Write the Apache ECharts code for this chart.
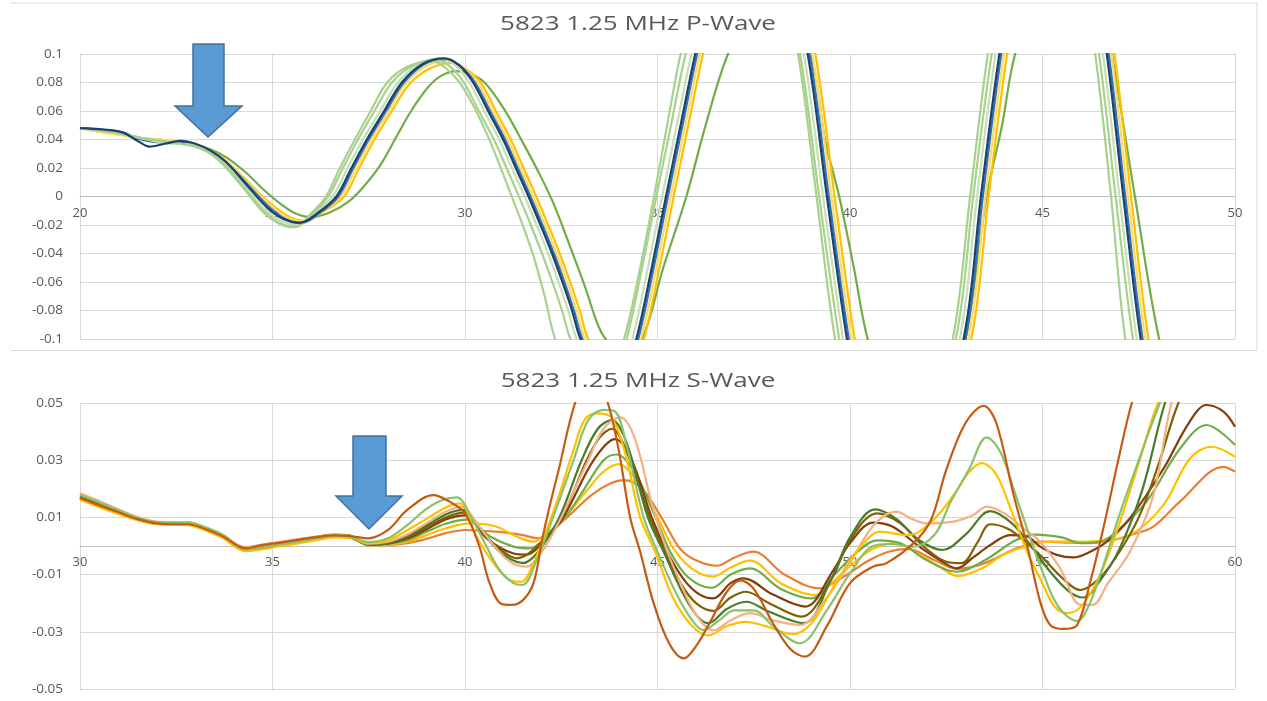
<!DOCTYPE html>
<html>
<head>
<meta charset="utf-8">
<script src="https://cdn.jsdelivr.net/npm/echarts@6/dist/echarts.min.js"></script>
<style>
  html, body { margin: 0; padding: 0; background: #ffffff; }
  #chart { width: 1267px; height: 701px; }
</style>
</head>
<body>
<div id="chart"></div>
<script>
// ---------- P-Wave traces (time, amplitude) ----------
const pTitle = '5823 1.25 MHz P-Wave';
const pXTicks = { min: 20, max: 50, step: 5 };
const pYTicks = { min: -0.1, max: 0.1, step: 0.02 };

const pLightGreenA = [[20,0.048],[20.6,0.046],[21.1,0.044],[21.6,0.041],[22.1,0.039],[22.6,0.037],[23.0,0.035],[23.4,0.03],[23.8,0.02],[24.3,0.004],[24.8,-0.012],[25.3,-0.0205],[25.6,-0.0215],[26.0,-0.012],[26.39,0],[26.75,0.02],[27.14,0.04],[27.55,0.06],[27.98,0.08],[28.5,0.091],[29.15,0.095],[29.5,0.09],[29.86,0.08],[30.25,0.062],[30.6,0.042],[30.9,0.022],[31.17,0.003],[31.47,-0.018],[31.78,-0.042],[32.07,-0.07],[32.34,-0.1],[32.8,-0.128],[33.25,-0.137],[33.7,-0.128],[34.13,-0.1],[34.55,-0.05],[34.91,0],[35.25,0.05],[35.6,0.1],[36.3,0.18],[37.15,0.21],[38.0,0.18],[38.65,0.1],[39.13,0],[39.61,-0.1],[40.3,-0.2],[41.0,-0.245],[41.7,-0.2],[42.67,-0.1],[43.12,0],[43.58,0.1],[44.2,0.2],[45.0,0.25],[45.8,0.2],[46.37,0.1],[46.78,0],[47.15,-0.1],[47.8,-0.2],[48.7,-0.27],[49.6,-0.25],[50,-0.22]];
const pLightGreenB = [[20,0.048],[20.6,0.046],[21.1,0.044],[21.6,0.041],[22.1,0.039],[22.6,0.037],[23.0,0.035],[23.4,0.03],[23.8,0.021],[24.3,0.005],[24.8,-0.011],[25.3,-0.02],[25.6,-0.021],[26.0,-0.013],[26.45,0],[26.83,0.02],[27.22,0.04],[27.65,0.06],[28.1,0.08],[28.65,0.092],[29.25,0.096],[29.62,0.091],[29.97,0.08],[30.36,0.06],[30.75,0.04],[31.08,0.02],[31.4,0],[31.71,-0.02],[32.0,-0.04],[32.27,-0.06],[32.52,-0.08],[32.74,-0.1],[33.25,-0.125],[33.65,-0.128],[33.95,-0.118],[34.2,-0.1],[34.6,-0.05],[34.97,0],[35.35,0.05],[35.73,0.1],[36.4,0.17],[37.25,0.2],[38.1,0.17],[38.7,0.1],[39.2,0],[39.72,-0.1],[40.3,-0.19],[41.0,-0.24],[41.7,-0.2],[42.75,-0.1],[43.2,0],[43.68,0.1],[44.3,0.2],[45.1,0.25],[45.9,0.2],[46.47,0.1],[46.9,0],[47.35,-0.1],[48.0,-0.2],[48.9,-0.27],[50,-0.25]];
const pPaleGreen = [[20,0.048],[20.6,0.046],[21.1,0.044],[21.6,0.041],[22.1,0.038],[22.6,0.037],[23.0,0.036],[23.4,0.031],[23.8,0.022],[24.3,0.007],[24.8,-0.009],[25.3,-0.018],[25.65,-0.0195],[26.1,-0.011],[26.56,0],[26.95,0.02],[27.35,0.04],[27.8,0.06],[28.26,0.08],[28.8,0.093],[29.37,0.097],[29.75,0.092],[30.11,0.08],[30.5,0.06],[30.89,0.04],[31.22,0.02],[31.55,0],[31.86,-0.02],[32.16,-0.04],[32.43,-0.06],[32.68,-0.08],[32.9,-0.1],[33.4,-0.125],[33.8,-0.128],[34.1,-0.118],[34.35,-0.1],[34.75,-0.05],[35.12,0],[35.5,0.05],[35.88,0.1],[36.5,0.17],[37.35,0.2],[38.2,0.17],[38.8,0.1],[39.3,0],[39.82,-0.1],[40.4,-0.19],[41.1,-0.24],[41.8,-0.2],[42.85,-0.1],[43.3,0],[43.78,0.1],[44.4,0.2],[45.2,0.25],[46.0,0.2],[46.57,0.1],[47.0,0],[47.45,-0.1],[48.1,-0.2],[49.0,-0.27],[50,-0.245]];
const pNavy = [[20,0.048],[20.6,0.047],[21.1,0.045],[21.5,0.039],[21.8,0.035],[22.2,0.037],[22.6,0.039],[23.0,0.037],[23.4,0.032],[23.8,0.024],[24.3,0.009],[24.85,-0.0075],[25.3,-0.016],[25.7,-0.0185],[26.2,-0.011],[26.66,0],[27.05,0.02],[27.45,0.04],[27.9,0.06],[28.36,0.08],[28.9,0.093],[29.47,0.097],[29.85,0.092],[30.21,0.08],[30.6,0.06],[30.99,0.04],[31.32,0.02],[31.65,0],[31.96,-0.02],[32.26,-0.04],[32.53,-0.06],[32.78,-0.08],[33.0,-0.1],[33.5,-0.125],[33.9,-0.127],[34.2,-0.118],[34.45,-0.1],[34.85,-0.05],[35.22,0],[35.6,0.05],[35.98,0.1],[36.6,0.17],[37.45,0.2],[38.3,0.17],[38.9,0.1],[39.4,0],[39.92,-0.1],[40.5,-0.19],[41.2,-0.24],[41.9,-0.2],[42.95,-0.1],[43.4,0],[43.88,0.1],[44.5,0.2],[45.3,0.25],[46.1,0.2],[46.67,0.1],[47.1,0],[47.55,-0.1],[48.2,-0.2],[49.1,-0.27],[50,-0.24]];
const pBlue = [[20,0.048],[20.6,0.047],[21.1,0.045],[21.6,0.04],[22.1,0.038],[22.6,0.038],[23.0,0.036],[23.4,0.032],[23.8,0.024],[24.3,0.01],[24.9,-0.007],[25.35,-0.016],[25.75,-0.0185],[26.25,-0.011],[26.71,0],[27.1,0.02],[27.5,0.04],[27.95,0.06],[28.41,0.08],[28.95,0.093],[29.52,0.096],[29.9,0.091],[30.26,0.08],[30.65,0.06],[31.04,0.04],[31.37,0.02],[31.7,0],[32.01,-0.02],[32.31,-0.04],[32.58,-0.06],[32.83,-0.08],[33.05,-0.1],[33.55,-0.125],[33.95,-0.127],[34.25,-0.118],[34.5,-0.1],[34.9,-0.05],[35.27,0],[35.65,0.05],[36.03,0.1],[36.65,0.17],[37.5,0.2],[38.35,0.17],[38.95,0.1],[39.45,0],[39.97,-0.1],[40.55,-0.19],[41.25,-0.24],[41.95,-0.2],[43.0,-0.1],[43.45,0],[43.93,0.1],[44.55,0.2],[45.35,0.25],[46.15,0.2],[46.72,0.1],[47.15,0],[47.6,-0.1],[48.25,-0.2],[49.15,-0.27],[50,-0.24]];
const pPaleYellow = [[20,0.048],[20.6,0.045],[21.1,0.043],[21.6,0.041],[22.1,0.04],[22.6,0.038],[23.0,0.036],[23.4,0.032],[23.8,0.025],[24.3,0.011],[24.9,-0.005],[25.4,-0.015],[25.8,-0.0175],[26.3,-0.01],[26.78,0],[27.17,0.02],[27.57,0.04],[28.02,0.06],[28.48,0.08],[29.02,0.092],[29.6,0.095],[29.97,0.09],[30.33,0.08],[30.72,0.06],[31.11,0.04],[31.44,0.02],[31.77,0],[32.08,-0.02],[32.38,-0.04],[32.65,-0.06],[32.9,-0.08],[33.12,-0.1],[33.6,-0.124],[34.0,-0.126],[34.3,-0.117],[34.57,-0.1],[34.97,-0.05],[35.34,0],[35.72,0.05],[36.1,0.1],[36.72,0.17],[37.57,0.2],[38.42,0.17],[39.02,0.1],[39.52,0],[40.04,-0.1],[40.62,-0.19],[41.32,-0.24],[42.02,-0.2],[43.07,-0.1],[43.52,0],[44.0,0.1],[44.62,0.2],[45.42,0.25],[46.22,0.2],[46.79,0.1],[47.22,0],[47.67,-0.1],[48.32,-0.2],[49.22,-0.27],[50,-0.24]];
const pGold = [[20,0.048],[20.6,0.045],[21.1,0.043],[21.6,0.041],[22.1,0.04],[22.6,0.038],[23.0,0.036],[23.4,0.032],[23.8,0.025],[24.3,0.012],[24.9,-0.004],[25.45,-0.0145],[25.85,-0.017],[26.35,-0.01],[26.86,0],[27.25,0.02],[27.65,0.04],[28.1,0.06],[28.56,0.079],[29.1,0.09],[29.68,0.0937],[30.05,0.089],[30.41,0.08],[30.8,0.06],[31.19,0.04],[31.52,0.02],[31.85,0],[32.16,-0.02],[32.46,-0.04],[32.73,-0.06],[32.98,-0.08],[33.2,-0.1],[33.7,-0.123],[34.1,-0.125],[34.4,-0.116],[34.65,-0.1],[35.05,-0.05],[35.42,0],[35.8,0.05],[36.18,0.1],[36.8,0.17],[37.65,0.2],[38.5,0.17],[39.1,0.1],[39.6,0],[40.12,-0.1],[40.7,-0.19],[41.4,-0.24],[42.1,-0.2],[43.15,-0.1],[43.6,0],[44.08,0.1],[44.7,0.2],[45.5,0.25],[46.3,0.2],[46.87,0.1],[47.3,0],[47.75,-0.1],[48.4,-0.2],[49.3,-0.27],[50,-0.24]];
const pGreen = [[20,0.048],[20.6,0.046],[21.1,0.044],[21.6,0.04],[22.1,0.038],[22.6,0.037],[23.0,0.036],[23.4,0.033],[23.8,0.0275],[24.3,0.017],[24.8,0.004],[25.2,-0.005],[25.6,-0.012],[26.0,-0.0145],[26.5,-0.011],[27.0,-0.003],[27.4,0.008],[27.8,0.022],[28.2,0.041],[28.6,0.06],[29.05,0.077],[29.4,0.085],[29.8,0.088],[30.15,0.086],[30.51,0.08],[31.0,0.062],[31.5,0.038],[31.95,0.015],[32.3,-0.005],[32.7,-0.033],[33.1,-0.062],[33.45,-0.09],[33.65,-0.1],[34.1,-0.113],[34.6,-0.1],[35.15,-0.05],[35.75,0],[36.25,0.05],[36.83,0.1],[37.9,0.16],[38.97,0.1],[39.35,0.04],[39.72,0],[40.1,-0.05],[40.46,-0.1],[41.5,-0.19],[42.2,-0.18],[43.0,-0.1],[43.55,0],[43.95,0.05],[44.29,0.1],[45.5,0.2],[46.3,0.17],[46.8,0.1],[47.4,0],[48.03,-0.1],[49.0,-0.2],[50,-0.22]];

// ---------- S-Wave traces (time, amplitude) ----------
const sTitle = '5823 1.25 MHz S-Wave';
const sXTicks = { min: 30, max: 60, step: 5 };
const sYTicks = { min: -0.05, max: 0.05, step: 0.02 };

const sBurnt = [[30,0.0168],[30.5,0.0142],[31,0.0118],[31.5,0.0094],[32,0.0079],[32.5,0.0076],[32.8,0.0076],[33.2,0.0062],[33.7,0.0034],[34.3,-0.0008],[34.7,0.0002],[35.2,0.0012],[35.7,0.0022],[36.2,0.0032],[36.6,0.0037],[37.0,0.0035],[37.5,0.0027],[38.0,0.0056],[38.5,0.0126],[39.18,0.0178],[39.6,0.0155],[40.0,0.0114],[40.37,0.0],[40.64,-0.013],[40.95,-0.0203],[41.2,-0.0206],[41.5,-0.019],[41.78,-0.013],[42.0,0.002],[42.2,0.014],[42.44,0.027],[42.86,0.05],[43.3,0.062],[43.71,0.05],[44.0,0.033],[44.29,0.01],[44.55,-0.002],[44.9,-0.02],[45.3,-0.034],[45.68,-0.0393],[46.0,-0.035],[46.37,-0.0265],[46.8,-0.016],[47.15,-0.012],[47.5,-0.015],[48.0,-0.027],[48.45,-0.036],[48.83,-0.0387],[49.4,-0.028],[50.0,-0.013],[50.6,-0.0072],[50.95,-0.006],[51.65,0.001],[52.1,0.009],[52.5,0.0266],[53.0,0.043],[53.47,0.049],[53.8,0.043],[54.25,0.0178],[54.6,0.0003],[54.94,-0.0195],[55.2,-0.0276],[55.55,-0.029],[55.9,-0.0276],[56.24,-0.0125],[56.58,0.0062],[57.0,0.032],[57.32,0.05],[58.0,0.078],[59.0,0.09],[60,0.08]];
const sLightGreen = [[30,0.0178],[30.5,0.0152],[31,0.0125],[31.5,0.0099],[32,0.0083],[32.5,0.0082],[32.8,0.0082],[33.2,0.0067],[33.7,0.0038],[34.3,-0.0012],[34.7,-0.0006],[35.2,0.0006],[35.7,0.0016],[36.2,0.0028],[36.6,0.0037],[37.0,0.0033],[37.5,0.0014],[38.0,0.0027],[38.5,0.0073],[39.0,0.013],[39.4,0.016],[39.78,0.017],[40.2,0.009],[40.56,-0.0002],[40.9,-0.0084],[41.26,-0.013],[41.5,-0.0136],[41.86,-0.005],[42.15,0.005],[42.45,0.016],[42.82,0.03],[43.2,0.044],[43.6,0.0476],[43.9,0.047],[44.2,0.035],[44.64,0.01],[45.0,-0.002],[45.5,-0.017],[45.9,-0.026],[46.19,-0.0294],[46.6,-0.026],[47.0,-0.0225],[47.5,-0.0225],[48.0,-0.028],[48.7,-0.034],[49.4,-0.0224],[50.0,-0.0096],[50.6,0.0],[51.04,0.0007],[51.65,-0.0002],[52.2,0.004],[52.6,0.015],[53.1,0.027],[53.55,0.038],[53.9,0.033],[54.3,0.018],[54.7,0.002],[55.0,-0.009],[55.4,-0.021],[55.9,-0.0262],[56.2,-0.021],[56.6,-0.006],[57.0,0.011],[57.5,0.03],[58.05,0.05],[58.6,0.066],[59.3,0.072],[60,0.066]];
const sGoldHigh = [[30,0.0162],[30.5,0.0136],[31,0.0112],[31.5,0.009],[32,0.0077],[32.5,0.0076],[32.8,0.0075],[33.2,0.0059],[33.7,0.003],[34.3,-0.0016],[34.7,-0.001],[35.2,0.0002],[35.7,0.0012],[36.2,0.0024],[36.6,0.0032],[37.0,0.003],[37.5,0.0011],[38.0,0.002],[38.5,0.0055],[39.0,0.0095],[39.5,0.0135],[39.87,0.0149],[40.3,0.0033],[40.74,-0.006],[41.17,-0.012],[41.47,-0.0125],[41.78,-0.006],[42.12,0.0056],[42.4,0.016],[42.82,0.0336],[43.1,0.044],[43.4,0.0464],[43.8,0.045],[44.15,0.033],[44.55,0.01],[44.94,-0.002],[45.4,-0.018],[45.9,-0.028],[46.32,-0.0313],[46.8,-0.028],[47.3,-0.0265],[47.8,-0.028],[48.53,-0.0308],[49.0,-0.027],[49.5,-0.016],[50.0,-0.005],[50.5,0.003],[50.78,0.005],[51.47,0.0038],[51.8,0.005],[52.3,0.011],[52.8,0.02],[53.1,0.026],[53.42,0.029],[53.8,0.025],[54.2,0.012],[54.6,-0.002],[55.0,-0.013],[55.3,-0.021],[55.63,-0.0235],[56.0,-0.0212],[56.5,-0.01],[57.0,0.008],[57.5,0.029],[58.0,0.05],[58.6,0.065],[59.3,0.07],[60,0.064]];
const sSalmon = [[30,0.0184],[30.5,0.0157],[31,0.0128],[31.5,0.0101],[32,0.0085],[32.5,0.0083],[32.8,0.0083],[33.2,0.0068],[33.7,0.0039],[34.3,-0.0006],[34.7,0.0002],[35.2,0.0012],[35.7,0.0022],[36.2,0.0032],[36.6,0.0038],[37.0,0.0034],[37.5,0.0008],[38.0,0.0015],[38.5,0.004],[39.0,0.008],[39.5,0.012],[39.9,0.0138],[40.3,0.008],[40.7,0.001],[41.17,-0.0055],[41.6,-0.0072],[42.0,-0.002],[42.5,0.01],[42.85,0.02],[43.2,0.03],[43.6,0.041],[44.03,0.045],[44.4,0.038],[44.85,0.015],[45.2,0.0],[45.6,-0.013],[46.0,-0.024],[46.45,-0.0295],[46.9,-0.026],[47.4,-0.0235],[48.0,-0.026],[48.7,-0.0276],[49.4,-0.018],[50.0,-0.006],[50.6,0.007],[51.2,0.012],[51.6,0.0095],[51.99,0.0079],[52.68,0.0085],[53.2,0.0108],[53.55,0.0138],[54.0,0.0115],[54.5,0.0062],[54.94,0.0015],[55.46,-0.0078],[55.98,-0.0205],[56.3,-0.0206],[56.7,-0.013],[57.27,-0.002],[57.88,0.0178],[58.35,0.05],[58.9,0.07],[60,0.075]];
const sDarkGreen = [[30,0.0172],[30.5,0.0146],[31,0.012],[31.5,0.0096],[32,0.008],[32.5,0.0079],[32.8,0.0079],[33.2,0.0064],[33.7,0.0035],[34.3,-0.0014],[34.7,-0.0008],[35.2,0.0004],[35.7,0.0015],[36.2,0.0027],[36.6,0.0035],[37.0,0.0031],[37.5,0.0005],[38.0,0.001],[38.5,0.0035],[39.0,0.0072],[39.5,0.011],[39.95,0.0126],[40.4,0.006],[40.9,-0.002],[41.5,-0.006],[41.9,-0.002],[42.45,0.01],[43.03,0.03],[43.45,0.041],[43.81,0.044],[44.2,0.036],[44.75,0.01],[45.16,-0.002],[45.6,-0.015],[46.0,-0.024],[46.32,-0.027],[46.8,-0.022],[47.3,-0.0195],[47.9,-0.023],[48.79,-0.027],[49.5,-0.012],[50.0,0.003],[50.65,0.0128],[51.2,0.0095],[51.8,0.002],[52.4,-0.0014],[53.0,0.004],[53.64,0.0122],[54.2,0.008],[54.7,0.0],[55.2,-0.009],[55.7,-0.016],[56.06,-0.018],[56.5,-0.012],[57.0,-0.001],[57.6,0.02],[58.18,0.05],[58.8,0.072],[60,0.08]];
const sOlive = [[30,0.0166],[30.5,0.014],[31,0.0116],[31.5,0.0093],[32,0.0078],[32.5,0.0077],[32.8,0.0077],[33.2,0.0061],[33.7,0.0032],[34.3,-0.0012],[34.7,-0.0005],[35.2,0.0007],[35.7,0.0018],[36.2,0.003],[36.6,0.0036],[37.0,0.0033],[37.5,0.0006],[38.0,0.0009],[38.5,0.003],[39.0,0.0065],[39.5,0.01],[39.95,0.0117],[40.4,0.0055],[40.9,-0.001],[41.34,-0.0043],[41.8,-0.001],[42.5,0.01],[43.16,0.03],[43.5,0.038],[43.81,0.041],[44.2,0.033],[44.8,0.01],[45.2,-0.002],[45.6,-0.013],[46.0,-0.02],[46.45,-0.0227],[46.9,-0.018],[47.3,-0.016],[47.9,-0.02],[48.74,-0.0247],[49.5,-0.012],[50.0,0.002],[50.7,0.0114],[51.3,0.008],[51.9,0.0],[52.5,-0.0055],[52.9,-0.006],[53.3,0.001],[53.64,0.0076],[54.1,0.006],[54.6,0.001],[55.0,-0.004],[55.5,-0.011],[55.98,-0.0154],[56.5,-0.011],[57.0,-0.002],[57.5,0.01],[58.0,0.028],[58.53,0.05],[59.2,0.068],[60,0.07]];
const sBrown = [[30,0.017],[30.5,0.0145],[31,0.0119],[31.5,0.0095],[32,0.0079],[32.5,0.0078],[32.8,0.0078],[33.2,0.0063],[33.7,0.0035],[34.3,-0.001],[34.7,-0.0002],[35.2,0.001],[35.7,0.002],[36.2,0.0031],[36.6,0.0036],[37.0,0.0033],[37.5,0.0006],[38.0,0.0009],[38.5,0.0026],[39.0,0.0058],[39.5,0.0093],[40.0,0.0107],[40.56,0.0027],[41.26,-0.0026],[41.6,-0.003],[42.0,0.001],[42.55,0.01],[43.34,0.03],[43.9,0.0374],[44.3,0.031],[44.85,0.01],[45.25,-0.002],[45.7,-0.012],[46.1,-0.017],[46.45,-0.0183],[46.9,-0.013],[47.23,-0.0113],[48.0,-0.017],[48.83,-0.0212],[49.57,-0.0084],[50.0,0.001],[50.6,0.0082],[51.1,0.0068],[51.8,-0.0002],[52.34,-0.005],[52.77,-0.0078],[53.2,-0.004],[53.64,0.0003],[54.16,0.0038],[54.6,0.0033],[54.94,-0.0002],[55.37,-0.0031],[55.8,-0.004],[56.24,-0.002],[56.67,0.0015],[57.27,0.0097],[58.14,0.027],[58.8,0.043],[59.26,0.0493],[59.7,0.047],[60,0.0417]];
const sGreen = [[30,0.0175],[30.5,0.0149],[31,0.0122],[31.5,0.0097],[32,0.0082],[32.5,0.0081],[32.8,0.0083],[33.2,0.0068],[33.7,0.004],[34.3,-0.0008],[34.7,0.0],[35.2,0.0011],[35.7,0.0021],[36.2,0.0033],[36.6,0.004],[37.0,0.0037],[37.5,0.0004],[38.0,0.0008],[38.5,0.002],[39.0,0.005],[39.5,0.0078],[40.05,0.0092],[40.65,0.0033],[41.26,-0.0002],[41.69,-0.0008],[42.1,0.003],[42.6,0.01],[43.1,0.02],[43.6,0.03],[43.94,0.032],[44.4,0.026],[44.95,0.01],[45.33,-0.002],[45.8,-0.011],[46.41,-0.0146],[46.9,-0.01],[47.4,-0.0078],[48.2,-0.015],[49.0,-0.0183],[49.6,-0.01],[50.2,-0.002],[50.7,0.002],[51.3,0.001],[52.0,-0.005],[52.77,-0.009],[53.5,-0.005],[54.3,0.002],[54.8,0.004],[55.5,0.003],[56.0,0.001],[56.5,0.0015],[57.0,0.006],[57.7,0.0155],[58.57,0.034],[59.26,0.0423],[60,0.0353]];
const sGoldLow = [[30,0.0164],[30.5,0.0138],[31,0.0113],[31.5,0.0091],[32,0.0076],[32.5,0.0074],[32.8,0.0073],[33.2,0.0058],[33.7,0.0029],[34.3,-0.0018],[34.7,-0.0012],[35.2,0.0],[35.7,0.001],[36.2,0.0022],[36.6,0.003],[37.0,0.0028],[37.5,0.0003],[38.0,0.0005],[38.5,0.0015],[39.0,0.0038],[39.5,0.0062],[40.15,0.0079],[40.8,0.0068],[41.34,0.0033],[41.77,0.0015],[42.2,0.005],[42.6,0.01],[43.2,0.02],[43.6,0.026],[43.99,0.0286],[44.4,0.024],[45.0,0.01],[45.42,-0.001],[45.9,-0.008],[46.45,-0.0107],[46.9,-0.0075],[47.4,-0.0051],[48.2,-0.013],[49.09,-0.0171],[49.6,-0.012],[50.0,-0.007],[50.6,-0.001],[51.2,0.001],[51.8,-0.003],[52.3,-0.007],[52.8,-0.0105],[53.4,-0.008],[54.0,-0.003],[54.6,0.0],[55.2,0.0015],[55.8,0.0015],[56.4,0.0017],[57.27,0.0038],[58.14,0.0143],[58.83,0.0306],[59.39,0.0347],[60,0.0312]];
const sOrange = [[30,0.0182],[30.5,0.0155],[31,0.0127],[31.5,0.01],[32,0.0084],[32.5,0.0082],[32.8,0.0082],[33.2,0.0067],[33.7,0.0037],[34.3,-0.0004],[34.7,0.0004],[35.2,0.0014],[35.7,0.0024],[36.2,0.0034],[36.6,0.0039],[37.0,0.0036],[37.5,0.0002],[38.0,0.0003],[38.5,0.001],[39.0,0.0025],[39.5,0.0045],[40.0,0.0056],[40.8,0.005],[41.5,0.0038],[41.9,0.0027],[42.3,0.006],[42.65,0.01],[43.3,0.018],[43.8,0.022],[44.12,0.023],[44.6,0.02],[45.1,0.01],[45.59,-0.001],[46.0,-0.005],[46.54,-0.0069],[47.0,-0.004],[47.49,-0.002],[48.3,-0.01],[49.22,-0.0148],[49.8,-0.011],[50.5,-0.005],[51.0,-0.002],[51.5,-0.001],[52.2,-0.005],[52.8,-0.008],[53.5,-0.006],[54.3,-0.001],[55.0,0.0015],[55.6,0.0012],[56.2,0.001],[56.8,0.002],[57.27,0.0038],[57.88,0.0068],[58.57,0.0155],[59.7,0.0277],[60,0.026]];

// ---------- chart ----------
const textColor = '#595959';
const gridColor = '#d9d9d9';
const fontFam = '"Open Sans", "Liberation Sans", sans-serif';

const pSeries = [
  { data: pGreen, color: '#70ad47' },
  { data: pGold, color: '#ffc000' },
  { data: pPaleYellow, color: '#ffd966' },
  { data: pBlue, color: '#2e75b6' },
  { data: pPaleGreen, color: '#c5e0b4' },
  { data: pLightGreenB, color: '#a9d18e' },
  { data: pLightGreenA, color: '#a9d18e' },
  { data: pNavy, color: '#1f3f6e' }
];
const sSeries = [
  { data: sOrange, color: '#ed7d31' },
  { data: sGoldLow, color: '#ffc000' },
  { data: sGreen, color: '#70ad47' },
  { data: sBrown, color: '#843c0c' },
  { data: sOlive, color: '#806000' },
  { data: sDarkGreen, color: '#4a7a2a' },
  { data: sSalmon, color: '#f4b183' },
  { data: sGoldHigh, color: '#ffc000' },
  { data: sLightGreen, color: '#8cc168' },
  { data: sBurnt, color: '#c55a11' }
];

// plot boxes (pixels)
const pBox = { left: 80, right: 32, top: 54, height: 285 };
const sBox = { left: 80, right: 32, top: 403, height: 286 };

function fmt(v) { return String(+v.toFixed(2)); }

// x tick labels sit just under the zero line, so shift them up from the plot bottom
function zeroLabelMargin(box, ticks) {
  const zeroY = box.top + box.height * (ticks.max / (ticks.max - ticks.min));
  return Math.round(zeroY - (box.top + box.height)) + 10;
}

function xAxisFor(ticks, gridIndex, margin) {
  return {
    type: 'value', gridIndex, min: ticks.min, max: ticks.max, interval: ticks.step,
    axisLine: { onZero: true, lineStyle: { color: '#bfbfbf', width: 1 } },
    axisTick: { show: false },
    axisLabel: { color: textColor, fontSize: 13, fontFamily: fontFam, margin },
    splitLine: { show: true, lineStyle: { color: gridColor, width: 1 } }
  };
}
function yAxisFor(ticks, gridIndex) {
  return {
    type: 'value', gridIndex, min: ticks.min, max: ticks.max, interval: ticks.step,
    axisLine: { show: false }, axisTick: { show: false },
    axisLabel: { color: textColor, fontSize: 13.5, fontFamily: fontFam, margin: 17, formatter: fmt },
    splitLine: { show: true, lineStyle: { color: gridColor, width: 1 } }
  };
}
function lineSeries(list, idx) {
  return list.map(s => ({
    type: 'line', xAxisIndex: idx, yAxisIndex: idx, data: s.data,
    smooth: 0.35, showSymbol: false, symbol: 'none', clip: true, silent: true,
    lineStyle: { color: s.color, width: 2.2 }, itemStyle: { color: s.color }
  }));
}
function titleText(text, y) {
  return {
    type: 'text', x: 638, y, scaleX: 1.3, z: 50,
    style: { text, fill: textColor, font: '20px "Open Sans", sans-serif', textAlign: 'center', textVerticalAlign: 'middle', align: 'center', verticalAlign: 'middle' }
  };
}

const chart = echarts.init(document.getElementById('chart'), null, { renderer: 'canvas' });
chart.setOption({
  animation: false,
  backgroundColor: '#ffffff',
  grid: [pBox, sBox],
  xAxis: [xAxisFor(pXTicks, 0, zeroLabelMargin(pBox, pYTicks)), xAxisFor(sXTicks, 1, zeroLabelMargin(sBox, sYTicks))],
  yAxis: [yAxisFor(pYTicks, 0), yAxisFor(sYTicks, 1)],
  series: lineSeries(pSeries, 0).concat(lineSeries(sSeries, 1)),
  graphic: [
    titleText(pTitle, 24),
    titleText(sTitle, 381),
    { type: 'line', shape: { x1: 11, y1: 3, x2: 1257, y2: 3 }, style: { stroke: '#d9d9d9', lineWidth: 1 } },
    { type: 'line', shape: { x1: 1257, y1: 3, x2: 1257, y2: 350 }, style: { stroke: '#d9d9d9', lineWidth: 1 } },
    { type: 'line', shape: { x1: 11, y1: 350.5, x2: 1257, y2: 350.5 }, style: { stroke: '#d9d9d9', lineWidth: 1 } },
    { type: 'polygon', z: 100,
      shape: { points: [[193,44],[224,44],[224,106],[242,106],[208,137],[175,106],[193,106]] },
      style: { fill: '#5b9bd5', stroke: '#41719c', lineWidth: 1.5 } },
    { type: 'polygon', z: 100,
      shape: { points: [[353,436],[386,436],[386,496],[402,496],[369,529],[336,496],[353,496]] },
      style: { fill: '#5b9bd5', stroke: '#41719c', lineWidth: 1.5 } }
  ]
});
</script>
</body>
</html>
